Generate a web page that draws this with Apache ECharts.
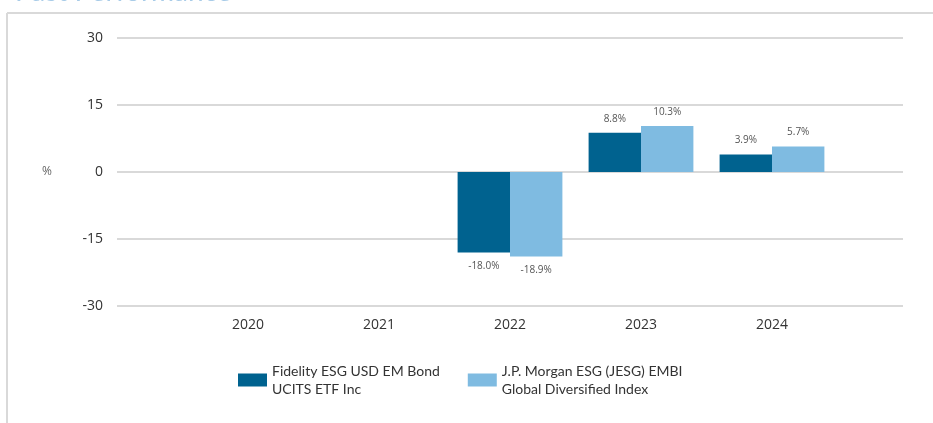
<!DOCTYPE html>
<html lang="en">
  <head>
    <meta charset="UTF-8" />
    <title>Past Performance</title>
    <script src="https://cdn.jsdelivr.net/npm/echarts@6.0.0/dist/echarts.min.js"></script>
    <style>
      html, body { margin: 0; padding: 0; background: #fff; }
    </style>
  </head>
  <body>
    <div id="main" style="width: 933px; height: 423px"></div>
    <script type="text/javascript">
      // chart data
      const years = ["2020", "2021", "2022", "2023", "2024"];
      const fundName = "Fidelity ESG USD EM Bond\nUCITS ETF Inc";
      const indexName = "J.P. Morgan ESG (JESG) EMBI\nGlobal Diversified Index";
      const fundValues = [null, null, -18.0, 8.8, 3.9];
      const indexValues = [null, null, -18.9, 10.3, 5.7];
      const yTicks = [-30, -15, 0, 15, 30];

      // pad one empty slot each side so the years sit inside the gridlines
      const axisData = [""].concat(years, [""]);
      function toItems(values) {
        const items = [null].concat(values, [null]);
        return items.map((v) => {
          if (v === null) return null;
          return {
            value: v,
            label: { position: v < 0 ? "bottom" : "top" },
          };
        });
      }

      const labelStyle = {
        show: true,
        distance: 9,
        fontSize: 10,
        color: "#555",
        fontFamily: "Open Sans",
        formatter: (p) => p.value.toFixed(1) + "%",
      };

      let options = {
        animation: false,
        title: {
          text: "Past Performance",
          left: 10,
          top: -27,
          textStyle: { fontSize: 28, fontWeight: "normal", color: "#a9cce8", fontFamily: "Lato" },
        },
        graphic: [
          { type: "line", shape: { x1: 7, y1: 13, x2: 933, y2: 13 }, style: { stroke: "#d9d9d9", lineWidth: 2 } },
          { type: "line", shape: { x1: 7, y1: 13, x2: 7, y2: 423 }, style: { stroke: "#d9d9d9", lineWidth: 2 } },
        ],
        grid: { left: 117, right: 30, top: 38, height: 268 },
        legend: {
          left: 233,
          top: 357,
          itemWidth: 29,
          itemHeight: 13,
          itemGap: 28,
          icon: "rect",
          textStyle: { fontSize: 14, color: "#333", fontFamily: "Lato", lineHeight: 18 },
          data: [fundName, indexName],
        },
        xAxis: {
          type: "category",
          boundaryGap: false,
          data: axisData,
          axisLine: { show: false },
          axisTick: { show: false },
          axisLabel: { margin: 12, fontSize: 14, color: "#333", fontFamily: "Open Sans" },
        },
        yAxis: {
          type: "value",
          min: yTicks[0],
          max: yTicks[yTicks.length - 1],
          interval: 15,
          name: "%",
          nameLocation: "middle",
          nameRotate: 0,
          nameGap: 65,
          nameTextStyle: { fontSize: 12, color: "#666", fontFamily: "Open Sans" },
          axisLabel: { margin: 14, fontSize: 14, color: "#333", fontFamily: "Open Sans" },
          splitLine: { lineStyle: { color: "#d9d9d9", width: 2 } },
        },
        series: [
          {
            name: fundName,
            type: "bar",
            data: toItems(fundValues),
            barGap: "0%",
            barCategoryGap: "20%",
            itemStyle: { color: "#00628f" },
            label: labelStyle,
          },
          {
            name: indexName,
            type: "bar",
            data: toItems(indexValues),
            itemStyle: { color: "#7fbbe1" },
            label: labelStyle,
          },
        ],
      };

      let myChart = echarts.init(document.getElementById("main"));
      myChart.setOption(options);
    </script>
  </body>
</html>
